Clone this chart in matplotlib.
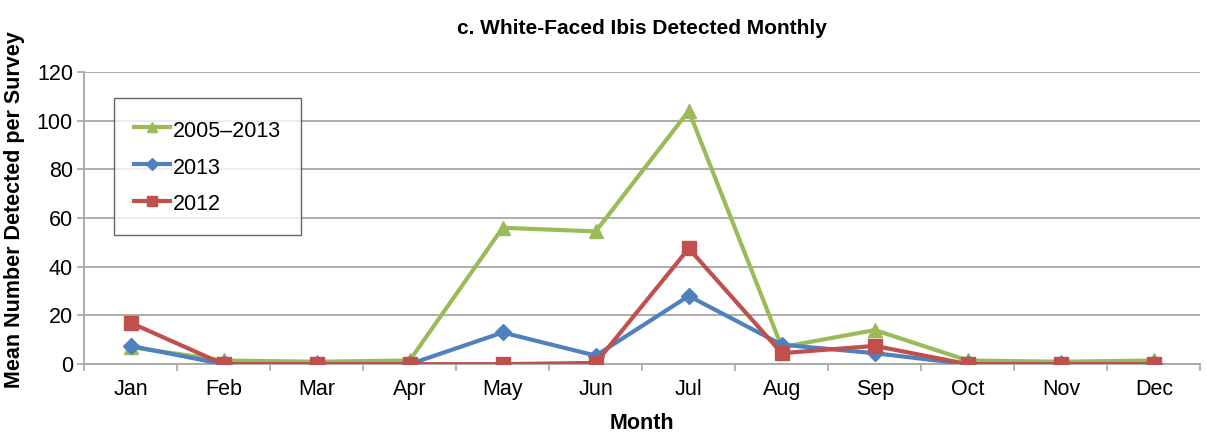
import matplotlib
matplotlib.use("Agg")
import matplotlib.pyplot as plt
import numpy as np

plt.rcParams['font.family'] = ['Liberation Sans', 'DejaVu Sans']

months = ["Jan", "Feb", "Mar", "Apr", "May", "Jun", "Jul", "Aug", "Sep", "Oct", "Nov", "Dec"]
avg_2005_2013 = [7, 1.5, 1, 1.5, 56, 54.5, 104, 7, 14, 1.5, 1, 1.5]
y2013 = [7.5, 0, 0, 0, 13, 3.5, 28, 8, 4.5, 0, 0, 0]
y2012 = [17, 0, 0, 0, 0, 0.5, 47.5, 4.5, 7.5, 0, 0, 0]

green = "#9BBB59"
blue = "#4F81BD"
red = "#C0504D"
grid_gray = "#A6A6A6"

fig = plt.figure(figsize=(12.07, 4.33), dpi=100)
ax = fig.add_axes([0.0696, 0.159, 0.925, 0.675])

x = np.arange(len(months))
ax.plot(x, avg_2005_2013, color=green, lw=3, marker="^", ms=10, label="2005\u20132013", zorder=3)
ax.plot(x, y2013, color=blue, lw=3, marker="D", ms=8, label="2013", zorder=4)
ax.plot(x, y2012, color=red, lw=3, marker="s", ms=10, label="2012", zorder=5)

ax.set_xlim(-0.5, 11.5)
ax.set_ylim(0, 120)
ax.set_yticks(np.arange(0, 121, 20))
ax.set_xticks(x)
ax.set_xticklabels(months)
ax.set_xticks(np.arange(-0.5, 12, 1), minor=True)
ax.tick_params(axis="x", which="major", length=0, labelsize=15.5, pad=11)
ax.tick_params(axis="x", which="minor", length=5, color=grid_gray, width=1.2, direction="out")
ax.tick_params(axis="y", length=5, color=grid_gray, width=1.2, labelsize=15.5, pad=3)

ax.grid(axis="y", color=grid_gray, lw=1.3, zorder=0)
ax.set_axisbelow(True)
for s in ["top", "right"]:
    ax.spines[s].set_visible(False)
for s in ["left", "bottom"]:
    ax.spines[s].set_color(grid_gray)
    ax.spines[s].set_linewidth(1.3)

ax.set_title("c. White-Faced Ibis Detected Monthly", fontsize=15, fontweight="bold", pad=27)
ax.set_xlabel("Month", fontsize=15.5, fontweight="bold", labelpad=9)
ax.set_ylabel("Mean Number Detected per Survey", fontsize=15.5, fontweight="bold")
ax.yaxis.set_label_coords(-0.053, 0.527)

leg = ax.legend(loc="upper left", bbox_to_anchor=(0.0269, 0.911), borderaxespad=0,
                fontsize=15.5, frameon=True, fancybox=False, edgecolor="#404040",
                handlelength=1.7, handleheight=1.3, borderpad=0.92, labelspacing=0.6,
                handletextpad=0.12, markerscale=0.75)
leg.get_frame().set_linewidth(1.0)

fig.savefig("out.png", dpi=100)
